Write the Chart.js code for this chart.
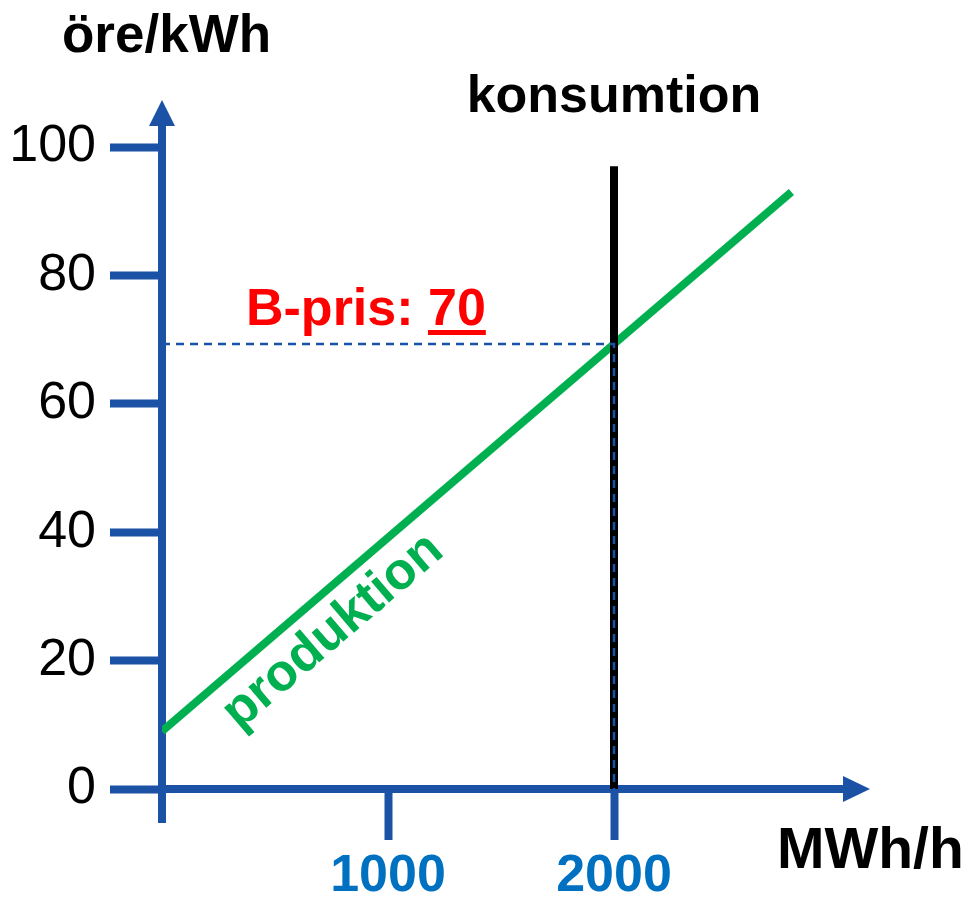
<!DOCTYPE html>
<html>
<head>
<meta charset="utf-8">
<script src="https://cdn.jsdelivr.net/npm/chart.js@4/dist/chart.umd.min.js"></script>
<style>
  body { margin: 0; background: #fff; }
  canvas { display: block; }
</style>
</head>
<body>
<canvas id="priceChart" width="969" height="897"></canvas>
<script>
// data
const productionX = [0, 2785];
const productionY = [9, 93];
const consumptionX = [2000, 2000];
const consumptionY = [0, 97];
const priceLevel = 69.3;
const priceLabel = '70';
const xTickValues = [1000, 2000];
const yTickStep = 20;

const axisBlue = '#1B52A6';
const font = "'Liberation Sans', Arial, sans-serif";

function toPoints(xs, ys) {
    return xs.map((v, i) => ({ x: v, y: ys[i] }));
}

// axis arrows, axis tails and the text labels
const extras = {
    id: 'extras',
    afterDraw(chart) {
        const { ctx, scales: { x, y } } = chart;
        const x0 = x.getPixelForValue(0);
        const y0 = y.getPixelForValue(0);
        ctx.save();
        ctx.strokeStyle = axisBlue;
        ctx.fillStyle = axisBlue;
        ctx.lineWidth = 8;

        // y axis: tail below zero and up to the arrow
        ctx.beginPath();
        ctx.moveTo(x0, y0);
        ctx.lineTo(x0, y0 + 34);
        ctx.moveTo(x0, y.top);
        ctx.lineTo(x0, y.top - 24);
        ctx.stroke();
        ctx.beginPath();
        ctx.moveTo(x0 - 13, y.top - 21);
        ctx.lineTo(x0 + 13, y.top - 21);
        ctx.lineTo(x0, y.top - 47);
        ctx.closePath();
        ctx.fill();

        // x axis arrow
        ctx.beginPath();
        ctx.moveTo(x.right, y0);
        ctx.lineTo(x.right + 6, y0);
        ctx.stroke();
        ctx.beginPath();
        ctx.moveTo(x.right + 3, y0 - 13);
        ctx.lineTo(x.right + 3, y0 + 13);
        ctx.lineTo(x.right + 30, y0);
        ctx.closePath();
        ctx.fill();

        // axis titles
        ctx.fillStyle = '#000';
        ctx.textBaseline = 'alphabetic';
        ctx.textAlign = 'left';
        ctx.font = 'bold 53px ' + font;
        ctx.fillText('öre/kWh', 62, 52);
        ctx.font = 'bold 57px ' + font;
        ctx.fillText('MWh/h', 777, 868);

        // konsumtion label over the black line
        ctx.font = 'bold 52px ' + font;
        ctx.textAlign = 'center';
        ctx.fillText('konsumtion', x.getPixelForValue(consumptionX[0]), 112);

        // B-pris label with underlined value
        ctx.textAlign = 'left';
        ctx.fillStyle = '#FF0000';
        const prefix = 'B-pris: ';
        const bx = 246, by = 325;
        ctx.fillText(prefix + priceLabel, bx, by);
        const pw = ctx.measureText(prefix).width;
        const vw = ctx.measureText(priceLabel).width;
        ctx.fillRect(bx + pw, by + 5, vw, 5);

        // produktion label along the green line
        const px1 = x.getPixelForValue(productionX[0]), py1 = y.getPixelForValue(productionY[0]);
        const px2 = x.getPixelForValue(productionX[1]), py2 = y.getPixelForValue(productionY[1]);
        const angle = Math.atan2(py2 - py1, px2 - px1);
        const t = 0.235;
        ctx.translate(px1 + (px2 - px1) * t, py1 + (py2 - py1) * t);
        ctx.rotate(angle);
        ctx.fillStyle = '#00B050';
        ctx.textAlign = 'center';
        ctx.fillText('produktion', 0, 50);
        ctx.restore();
    }
};

new Chart(document.getElementById('priceChart'), {
    type: 'scatter',
    data: {
        datasets: [
            {
                label: 'B-pris',
                data: [{ x: 0, y: priceLevel }, { x: consumptionX[0], y: priceLevel }, { x: consumptionX[0], y: 0 }],
                showLine: true,
                borderColor: axisBlue,
                borderWidth: 2.5,
                borderDash: [8, 6],
                pointRadius: 0,
                order: 0
            },
            {
                label: 'konsumtion',
                data: toPoints(consumptionX, consumptionY),
                showLine: true,
                borderColor: '#000',
                borderWidth: 8,
                pointRadius: 0,
                order: 1
            },
            {
                label: 'produktion',
                data: toPoints(productionX, productionY),
                showLine: true,
                borderColor: '#00B050',
                borderWidth: 8,
                pointRadius: 0,
                order: 2
            }
        ]
    },
    options: {
        responsive: false,
        animation: false,
        devicePixelRatio: 1,
        layout: { padding: { left: 0, top: 147, right: 129, bottom: 0 } },
        plugins: {
            legend: { display: false },
            tooltip: { enabled: false }
        },
        scales: {
            x: {
                type: 'linear',
                min: 0,
                max: 3000,
                afterBuildTicks: s => { s.ticks = xTickValues.map(v => ({ value: v })); },
                afterFit: s => { s.height = 108; },
                grid: {
                    drawOnChartArea: false,
                    tickLength: 51,
                    tickColor: axisBlue,
                    tickWidth: 8
                },
                border: { display: true, color: axisBlue, width: 8 },
                ticks: {
                    callback: v => String(v),
                    color: '#0070C0',
                    font: { family: font, size: 52, weight: 'bold' },
                    padding: 5,
                    maxRotation: 0
                }
            },
            y: {
                min: 0,
                max: 100,
                afterFit: s => { s.width = 162; },
                grid: {
                    drawOnChartArea: false,
                    tickLength: 52,
                    tickColor: axisBlue,
                    tickWidth: 8
                },
                border: { display: true, color: axisBlue, width: 8 },
                ticks: {
                    stepSize: yTickStep,
                    color: '#000',
                    font: { family: font, size: 52 },
                    padding: 14
                }
            }
        }
    },
    plugins: [extras]
});
</script>
</body>
</html>
